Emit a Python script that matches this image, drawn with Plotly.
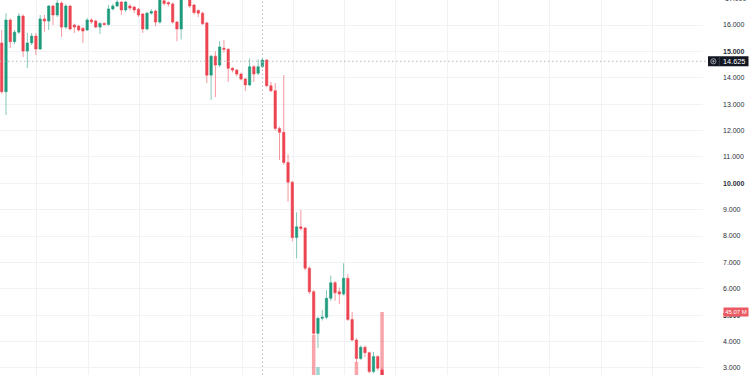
import plotly.graph_objects as go

# ---- data ----
opens = [15.32, 13.47, 16.19, 15.37, 15.73, 16.34, 15.01, 15.32, 15.58, 15.09,
         16.23, 16.15, 16.72, 16.38, 16.83, 15.92, 16.72, 16.00, 15.96, 15.88,
         15.81, 16.19, 16.15, 15.92, 16.06, 16.02, 16.61, 16.72, 16.87, 16.57,
         16.72, 16.68, 16.60, 16.42, 15.85, 16.45, 16.53, 16.11, 16.92, 16.85,
         16.80, 16.11, 15.85, 17.00, 17.05, 16.76, 16.55, 16.45, 16.08, 14.10,
         14.82, 14.48, 15.12, 15.08, 14.36, 14.29, 14.14, 13.95, 13.73, 14.42,
         14.17, 14.42, 14.67, 13.70, 13.51, 12.08, 11.93, 10.79, 10.04, 7.94,
         8.35, 8.30, 6.78, 5.89, 4.31, 4.88, 4.92, 5.64, 6.23, 5.89,
         5.80, 6.40, 4.84, 4.06, 3.36, 3.78, 3.58, 2.86, 3.43, 2.92]
highs = [15.80, 16.45, 16.25, 15.81, 16.45, 16.40, 15.70, 15.70, 15.70, 16.38,
         16.38, 16.76, 16.76, 16.95, 16.90, 16.80, 16.76, 16.05, 16.00, 15.90,
         16.27, 16.27, 16.20, 16.10, 16.10, 16.76, 16.80, 16.95, 16.90, 16.92,
         16.80, 16.72, 16.65, 16.45, 16.50, 16.60, 16.58, 17.10, 16.98, 16.90,
         16.85, 16.15, 17.10, 17.30, 17.10, 16.80, 16.60, 16.50, 16.12, 14.86,
         15.00, 15.39, 15.43, 15.12, 14.40, 14.33, 14.20, 14.00, 14.73, 14.48,
         14.70, 14.75, 14.70, 13.85, 13.80, 12.15, 14.10, 11.10, 10.10, 8.90,
         8.99, 8.35, 6.85, 5.95, 4.95, 5.20, 5.95, 6.50, 6.30, 6.05,
         6.97, 6.55, 5.13, 4.12, 3.85, 3.85, 3.62, 3.61, 3.48, 3.00]
lows = [13.40, 12.59, 15.13, 15.28, 15.66, 14.79, 14.37, 15.24, 14.86, 15.05,
        15.75, 15.81, 16.00, 16.30, 15.55, 15.85, 15.80, 15.70, 15.75, 15.32,
        15.77, 16.05, 15.88, 15.66, 15.98, 15.98, 16.55, 16.68, 16.38, 16.50,
        16.55, 16.45, 16.30, 15.70, 15.80, 16.40, 15.95, 16.05, 16.75, 16.70,
        16.05, 15.39, 15.45, 16.95, 16.65, 16.40, 16.30, 16.00, 13.80, 13.16,
        13.27, 14.40, 14.95, 13.84, 14.20, 14.05, 13.90, 13.50, 13.68, 13.84,
        14.10, 14.38, 13.65, 13.45, 12.00, 10.88, 10.70, 9.30, 7.80, 7.15,
        8.20, 6.70, 5.80, 4.25, 3.76, 4.80, 4.85, 5.55, 5.55, 5.42,
        5.75, 4.78, 4.00, 3.20, 3.30, 3.40, 2.80, 2.80, 2.90, 2.50]
closes = [13.47, 16.19, 15.37, 15.73, 16.34, 15.01, 15.32, 15.58, 15.09, 16.23,
          16.15, 16.72, 16.38, 16.83, 15.92, 16.72, 15.85, 15.92, 15.81, 15.77,
          16.19, 16.12, 15.92, 16.06, 16.02, 16.61, 16.72, 16.87, 16.57, 16.87,
          16.64, 16.57, 16.38, 15.85, 16.45, 16.51, 16.11, 17.00, 16.82, 16.80,
          16.11, 15.85, 17.00, 17.20, 16.72, 16.47, 16.45, 16.05, 14.10, 14.82,
          14.48, 15.17, 15.08, 14.36, 14.29, 14.14, 13.95, 13.73, 14.42, 14.14,
          14.42, 14.67, 13.70, 13.51, 12.08, 11.93, 10.79, 10.04, 7.94, 8.35,
          8.29, 6.78, 5.89, 4.31, 4.88, 4.92, 5.64, 6.23, 5.85, 5.80,
          6.40, 4.84, 4.06, 3.36, 3.78, 3.58, 2.86, 3.43, 2.99, 2.60]
volumes_m = [6.2, 9.8, 5.1, 3.9, 4.4, 6.0, 5.3, 3.2, 4.1, 5.6,
             3.0, 4.7, 3.8, 4.2, 5.5, 4.0, 4.6, 2.8, 2.5, 3.1,
             3.4, 2.2, 2.9, 2.6, 2.0, 4.3, 2.7, 3.3, 3.6, 3.9,
             2.4, 2.1, 2.8, 4.5, 4.9, 2.3, 3.7, 6.1, 3.5, 2.6,
             4.8, 4.0, 6.6, 5.2, 4.4, 3.6, 3.0, 3.9, 9.5, 8.1,
             6.3, 5.8, 4.2, 6.9, 3.8, 3.3, 3.7, 4.6, 5.4, 4.1,
             3.5, 3.9, 7.8, 5.0, 10.2, 9.1, 12.7, 11.4, 15.9, 14.3,
             9.6, 16.8, 17.5, 35.5, 22.1, 10.8, 13.6, 12.9, 11.2, 8.7,
             14.1, 17.9, 16.4, 24.2, 13.3, 9.9, 15.2, 12.6, 11.8, 45.07]
price_ticks = list(range(3, 18))
crosshair_index = 61
crosshair_price = 14.625

# ---- styling ----
UP = "#1E9B7D"
DOWN = "#EC4451"
UP_VOL = "rgba(38,166,154,0.45)"
DOWN_VOL = "rgba(242,54,69,0.45)"
GRID = "#f1f2f5"
TEXT = "#2a2e39"
CROSS = "#b4b7bf"

W, H = 750, 375
R_MARGIN = 47
PLOT_W = W - R_MARGIN
y_lo, y_hi = 2.732, 16.948
v_lo, v_hi = 18.78, 175.3
x_lo, x_hi = -0.4, 164.1

def px_to_paper(px):
    return px / PLOT_W

x = list(range(len(opens)))
vol_colors = [DOWN_VOL if c < o else UP_VOL for o, c in zip(opens, closes)]

fig = go.Figure()
fig.add_trace(go.Bar(
    x=x, y=volumes_m, yaxis="y2", marker=dict(color=vol_colors, line=dict(width=0)),
    width=0.82, hoverinfo="skip", showlegend=False))
fig.add_trace(go.Candlestick(
    x=x, open=opens, high=highs, low=lows, close=closes,
    increasing=dict(fillcolor=UP, line=dict(color="rgba(30,155,125,0.55)", width=1)),
    decreasing=dict(fillcolor=DOWN, line=dict(color="rgba(236,68,81,0.55)", width=1)),
    whiskerwidth=0, showlegend=False))

ticktext = []
for v in price_ticks:
    s = f"{v:.3f}"
    ticktext.append(f"<b>{s}</b>" if v % 5 == 0 else s)

fig.update_layout(
    width=W, height=H,
    margin=dict(l=0, r=R_MARGIN, t=0, b=0),
    paper_bgcolor="white", plot_bgcolor="white",
    boxgap=0.2,
    showlegend=False,
    font=dict(family="Liberation Sans, Arial, sans-serif", color=TEXT),
    xaxis=dict(range=[x_lo, x_hi], showticklabels=False, ticks="",
               tickvals=[8.25 + 12 * k for k in range(14)],
               showgrid=True, gridcolor=GRID, gridwidth=1, zeroline=False,
               showline=False, rangeslider=dict(visible=False), fixedrange=True),
    yaxis=dict(side="right", range=[y_lo, y_hi], tickvals=price_ticks, ticktext=ticktext,
               tickfont=dict(size=7, color=TEXT), ticks="", ticklabelstandoff=19,
               showgrid=True, gridcolor=GRID, gridwidth=1, zeroline=False,
               showline=False, automargin=False, fixedrange=True),
    yaxis2=dict(overlaying="y", range=[v_lo, v_hi], visible=False, fixedrange=True),
)

# crosshair
fig.add_shape(type="line", xref="x", yref="paper", x0=crosshair_index, x1=crosshair_index,
              y0=0, y1=1, line=dict(color=CROSS, width=1, dash="1.5px,2.5px"))
fig.add_shape(type="line", xref="paper", yref="y", x0=0, x1=px_to_paper(708),
              y0=crosshair_price, y1=crosshair_price,
              line=dict(color=CROSS, width=1, dash="1.5px,2.5px"))

# crosshair price label with icon
half = 5 / (H / (y_hi - y_lo))
fig.add_shape(type="rect", xref="paper", yref="y",
              x0=px_to_paper(708), x1=px_to_paper(748.5),
              y0=crosshair_price - half, y1=crosshair_price + half,
              fillcolor="#131722", line=dict(width=0), layer="above")
r_px = 2.6
r_y = r_px / (H / (y_hi - y_lo))
fig.add_shape(type="circle", xref="paper", yref="y",
              x0=px_to_paper(713.4 - r_px), x1=px_to_paper(713.4 + r_px),
              y0=crosshair_price - r_y, y1=crosshair_price + r_y,
              line=dict(color="#b8bbc4", width=0.8), layer="above")
fig.add_shape(type="line", xref="paper", yref="y",
              x0=px_to_paper(712.0), x1=px_to_paper(714.8),
              y0=crosshair_price, y1=crosshair_price,
              line=dict(color="#b8bbc4", width=0.7), layer="above")
fig.add_shape(type="line", xref="paper", yref="y",
              x0=px_to_paper(713.4), x1=px_to_paper(713.4),
              y0=crosshair_price - r_y * 0.55, y1=crosshair_price + r_y * 0.55,
              line=dict(color="#b8bbc4", width=0.7), layer="above")
fig.add_shape(type="line", xref="paper", yref="y",
              x0=px_to_paper(719.3), x1=px_to_paper(719.3),
              y0=crosshair_price - half, y1=crosshair_price + half,
              line=dict(color="#4a4e59", width=0.7), layer="above")
fig.add_annotation(xref="paper", yref="y", x=px_to_paper(733.6), y=crosshair_price,
                   text=f"{crosshair_price:.3f}", showarrow=False, xanchor="center",
                   yanchor="middle", font=dict(size=7.3, color="white"))

# cut-off top tick label (17.000)
top_tick = price_ticks[-1]
fig.add_annotation(xref="paper", yref="paper", x=px_to_paper(723.3),
                   y=(top_tick - y_lo) / (y_hi - y_lo), text=f"{top_tick:.3f}",
                   showarrow=False, xanchor="left", yanchor="middle",
                   font=dict(size=7, color=TEXT))

# last volume label
fig.add_annotation(xref="paper", yref="y2", x=px_to_paper(748.5), y=volumes_m[-1],
                   text=f"{volumes_m[-1]:.2f} M", showarrow=False, xanchor="right",
                   yanchor="middle", bgcolor="#EB5A62", borderpad=1.2,
                   font=dict(size=6, color="white"))

fig.write_html("out.html")
